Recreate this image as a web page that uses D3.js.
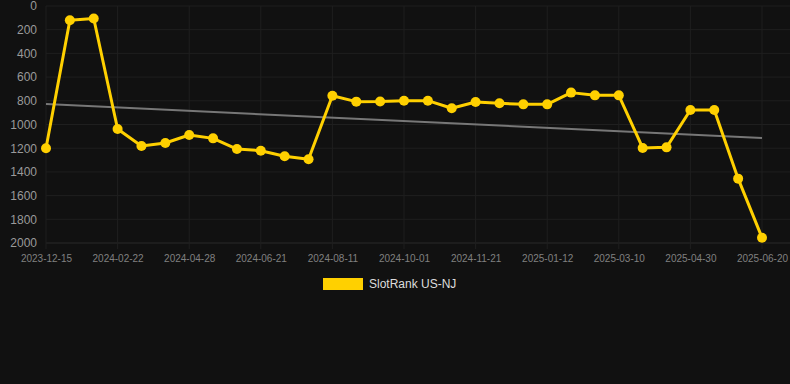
<!DOCTYPE html>
<html>
<head>
<meta charset="utf-8">
<script src="https://cdn.jsdelivr.net/npm/d3@7"></script>
<style>
  body { margin: 0; background: #111111; }
  svg { display: block; font-family: "Liberation Sans", Arial, sans-serif; }
</style>
</head>
<body>
<div id="chart"></div>
<script>
// data
const dates = ['2023-12-15', '2024-01-08', '2024-01-31', '2024-02-22', '2024-03-15', '2024-04-06',
    '2024-04-28', '2024-05-16', '2024-06-03', '2024-06-21', '2024-07-08', '2024-07-25',
    '2024-08-11', '2024-08-28', '2024-09-14', '2024-10-01', '2024-10-18', '2024-11-04',
    '2024-11-21', '2024-12-08', '2024-12-25', '2025-01-12', '2025-01-31', '2025-02-19',
    '2025-03-10', '2025-03-27', '2025-04-13', '2025-04-30', '2025-05-17', '2025-06-03',
    '2025-06-20'];
const ranks = [1200, 120, 105, 1038, 1181, 1156, 1089, 1117, 1207, 1221, 1268, 1294,
    757, 807, 806, 799, 799, 863, 810, 821, 830, 830, 731, 754, 754, 1198, 1193,
    878, 878, 1457, 1955];
const trendEnds = [827, 1114];
const yTicks = [0, 200, 400, 600, 800, 1000, 1200, 1400, 1600, 1800, 2000];
const xTickLabels = ['2023-12-15', '2024-02-22', '2024-04-28', '2024-06-21', '2024-08-11',
    '2024-10-01', '2024-11-21', '2025-01-12', '2025-03-10', '2025-04-30', '2025-06-20'];
const seriesName = 'SlotRank US-NJ';

const width = 790, height = 384;
const margin = { top: 6, right: 28, bottom: 141, left: 46 };
const lineColor = '#ffd000';

const svg = d3.select('#chart').append('svg')
    .attr('width', width)
    .attr('height', height);

svg.append('rect').attr('width', width).attr('height', height).attr('fill', '#111111');

const xScale = d3.scalePoint().domain(dates).range([margin.left, width - margin.right]);
const yScale = d3.scaleLinear().domain([0, 2000]).range([margin.top, height - margin.bottom]);

// grid
const grid = svg.append('g');
grid.selectAll('.hgrid')
    .data(yTicks)
    .enter().append('line')
    .attr('x1', margin.left)
    .attr('x2', width)
    .attr('y1', d => yScale(d))
    .attr('y2', d => yScale(d))
    .attr('stroke', d => d === 2000 ? '#2a2a2a' : '#1f1f1f')
    .attr('stroke-width', 1);

grid.selectAll('.vgrid')
    .data(xTickLabels)
    .enter().append('line')
    .attr('x1', d => xScale(d))
    .attr('x2', d => xScale(d))
    .attr('y1', margin.top)
    .attr('y2', yScale(2000) + 6)
    .attr('stroke', '#1f1f1f')
    .attr('stroke-width', 1);

// y axis
const yAxis = svg.append('g')
    .attr('transform', `translate(${margin.left},0)`)
    .call(d3.axisLeft(yScale).tickValues(yTicks).tickFormat(d3.format('d')).tickSize(0).tickPadding(9));
yAxis.select('.domain').remove();
yAxis.selectAll('text').attr('fill', '#9a9a9a').style('font-size', '12px')
    .style('font-family', '"Liberation Sans", Arial, sans-serif');

// x axis
const xAxis = svg.append('g')
    .attr('transform', `translate(0,${yScale(2000)})`)
    .call(d3.axisBottom(xScale).tickValues(xTickLabels).tickSize(0).tickPadding(12));
xAxis.select('.domain').remove();
xAxis.selectAll('text').attr('fill', '#808080').style('font-size', '10px')
    .style('font-family', '"Liberation Sans", Arial, sans-serif');

// trend line
svg.append('line')
    .attr('x1', xScale(dates[0]))
    .attr('x2', xScale(dates[dates.length - 1]))
    .attr('y1', yScale(trendEnds[0]))
    .attr('y2', yScale(trendEnds[1]))
    .attr('stroke', '#777777')
    .attr('stroke-width', 2);

// series
const line = d3.line()
    .x((d, i) => xScale(dates[i]))
    .y(d => yScale(d));

svg.append('path')
    .datum(ranks)
    .attr('d', line)
    .attr('fill', 'none')
    .attr('stroke', lineColor)
    .attr('stroke-width', 3)
    .attr('stroke-linejoin', 'round');

svg.selectAll('.dot')
    .data(ranks)
    .enter().append('circle')
    .attr('class', 'dot')
    .attr('cx', (d, i) => xScale(dates[i]))
    .attr('cy', d => yScale(d))
    .attr('r', 5)
    .attr('fill', lineColor);

// legend
const legend = svg.append('g').attr('transform', 'translate(323,278)');
legend.append('rect')
    .attr('width', 40)
    .attr('height', 12)
    .attr('fill', lineColor);
legend.append('text')
    .attr('x', 46)
    .attr('y', 10)
    .attr('fill', '#dddddd')
    .style('font-size', '12px')
    .text(seriesName);
</script>
</body>
</html>
